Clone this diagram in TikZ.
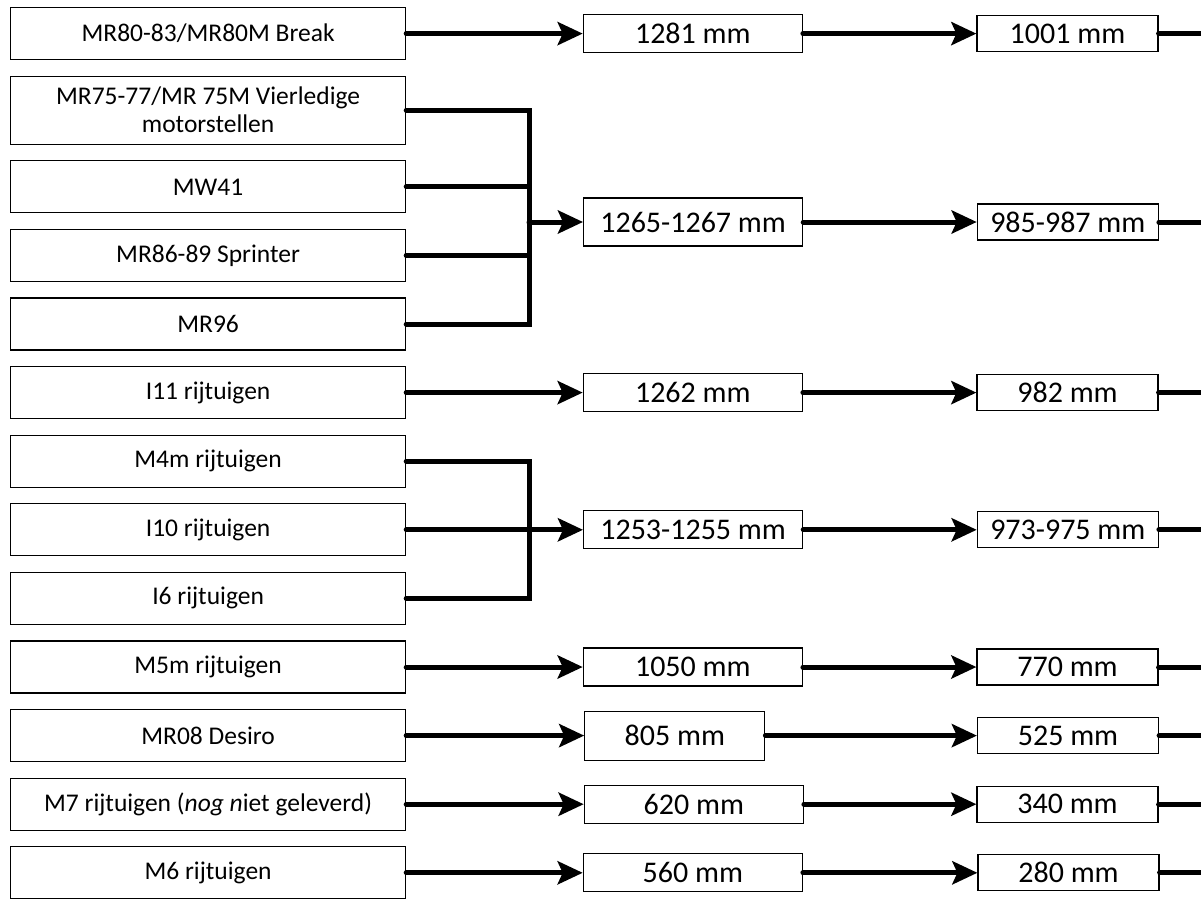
\documentclass[tikz,border=0pt]{standalone}
\usepackage{fontspec}
\setmainfont{Carlito}
\usetikzlibrary{positioning, arrows.meta}

\begin{document}
\begin{tikzpicture}[
    x=1pt, y=-1pt,
    node distance=15.4pt,
    vehicle/.style={rectangle, draw, line width=1.2pt, minimum width=395pt, minimum height=52pt, align=center, font=\fontsize{25.5}{28}\selectfont},
    gauge/.style={rectangle, draw, line width=1.2pt, minimum width=219pt, minimum height=38pt, font=\fontsize{30}{34}\selectfont},
    lowered/.style={rectangle, draw, line width=1.2pt, minimum width=181pt, minimum height=36pt, font=\fontsize{30}{34}\selectfont},
    link/.style={line width=5pt, line cap=round},
    feed/.style={link, -{Stealth[length=25pt, width=23pt, inset=5pt]}}
]
    \useasboundingbox (0,0) rectangle (1201,900);
    \coordinate (busx) at (529,0);
    \coordinate (rim) at (1201,0);

    % Rolling stock
    \node[vehicle, anchor=north west] (v1) at (10,7) {MR80-83/MR80M Break};
    \node[vehicle, minimum height=68pt, below=of v1] (v2) {MR75-77/MR 75M Vierledige\\motorstellen};
    \node[vehicle, below=of v2] (v3) {MW41};
    \node[vehicle, below=of v3] (v4) {MR86-89 Sprinter};
    \node[vehicle, below=of v4] (v5) {MR96};
    \node[vehicle, below=of v5] (v6) {I11 rijtuigen};
    \node[vehicle, below=of v6] (v7) {M4m rijtuigen};
    \node[vehicle, below=of v7] (v8) {I10 rijtuigen};
    \node[vehicle, below=of v8] (v9) {I6 rijtuigen};
    \node[vehicle, below=of v9] (v10) {M5m rijtuigen};
    \node[vehicle, below=of v10] (v11) {MR08 Desiro};
    \node[vehicle, below=of v11] (v12) {M7 rijtuigen (\textit{nog n}iet geleverd)};
    \node[vehicle, below=of v12] (v13) {M6 rijtuigen};

    % Bus junctions
    \coordinate (bus1) at (529,222);
    \coordinate (bus2) at (v8 -| busx);

    % Floor heights
    \node[gauge, right=176.5pt of v1] (h1) {1281 mm};
    \node[gauge, minimum height=48pt, right=54pt of bus1] (h2) {1265-1267 mm};
    \node[gauge, right=176.5pt of v6] (h3) {1262 mm};
    \node[gauge, right=54pt of bus2] (h4) {1253-1255 mm};
    \node[gauge, right=176.5pt of v10] (h5) {1050 mm};
    \node[gauge, minimum width=180pt, minimum height=49pt, right=178pt of v11] (h6) {805 mm};
    \node[gauge, right=177.5pt of v12] (h7) {620 mm};
    \node[gauge, right=176.5pt of v13] (h8) {560 mm};

    % Lowered heights
    \node[lowered, right=173.5pt of h1] (l1) {1001 mm};
    \node[lowered, right=173.5pt of h2] (l2) {985-987 mm};
    \node[lowered, right=173.5pt of h3] (l3) {982 mm};
    \node[lowered, right=173.5pt of h4] (l4) {973-975 mm};
    \node[lowered, right=173.5pt of h5] (l5) {770 mm};
    \node[lowered, right=211.5pt of h6] (l6) {525 mm};
    \node[lowered, right=172.5pt of h7] (l7) {340 mm};
    \node[lowered, right=174.5pt of h8] (l8) {280 mm};

    % Arrows
    \draw[feed] (v1) -- (h1);
    \draw[link] (v2) -- (v2 -| busx) |- (v5);
    \draw[link] (v3) -- (v3 -| busx);
    \draw[link] (v4) -- (v4 -| busx);
    \draw[feed] (bus1) -- (h2);
    \draw[feed] (v6) -- (h3);
    \draw[link] (v7) -- (v7 -| busx) |- (v9);
    \draw[feed] (v8) -- (h4);
    \draw[feed] (v10) -- (h5);
    \draw[feed] (v11) -- (h6);
    \draw[feed] (v12) -- (h7);
    \draw[feed] (v13) -- (h8);

    \draw[feed] (h1) -- (l1);
    \draw[feed] (h2) -- (l2);
    \draw[feed] (h3) -- (l3);
    \draw[feed] (h4) -- (l4);
    \draw[feed] (h5) -- (l5);
    \draw[feed] (h6) -- (l6);
    \draw[feed] (h7) -- (l7);
    \draw[feed] (h8) -- (l8);

    \draw[link] (l1) -- (l1 -| rim);
    \draw[link] (l2) -- (l2 -| rim);
    \draw[link] (l3) -- (l3 -| rim);
    \draw[link] (l4) -- (l4 -| rim);
    \draw[link] (l5) -- (l5 -| rim);
    \draw[link] (l6) -- (l6 -| rim);
    \draw[link] (l7) -- (l7 -| rim);
    \draw[link] (l8) -- (l8 -| rim);
\end{tikzpicture}
\end{document}
